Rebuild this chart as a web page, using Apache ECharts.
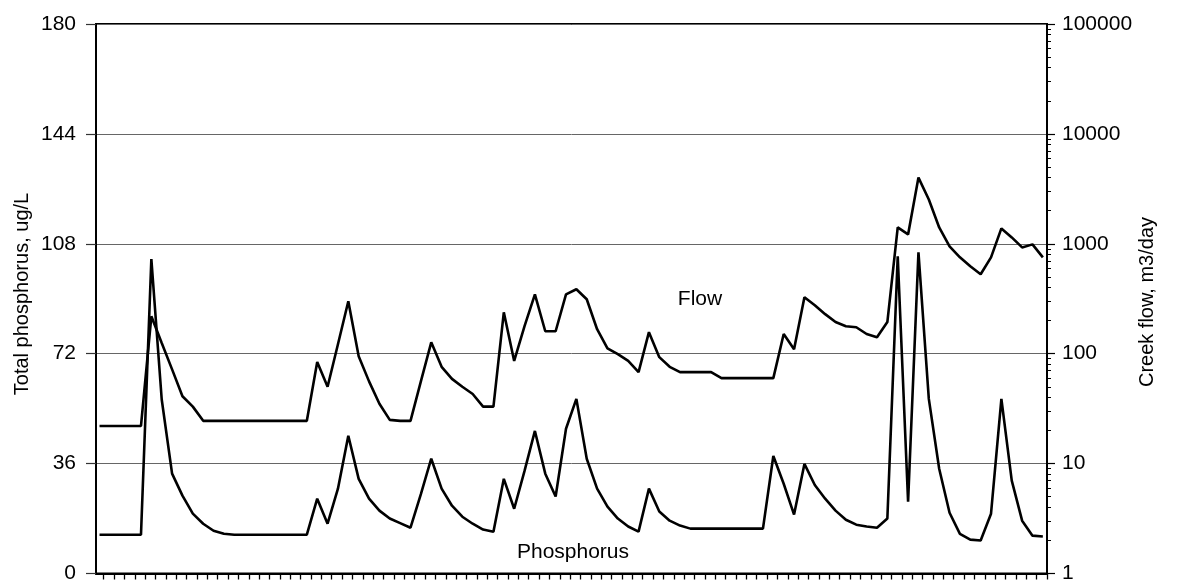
<!DOCTYPE html>
<html><head><meta charset="utf-8">
<script src="https://cdn.jsdelivr.net/npm/echarts@6/dist/echarts.min.js"></script>
<style>html,body{margin:0;padding:0;background:#fff}#c{width:1179px;height:584px}</style>
</head><body><div id="c"></div>
<script>
// Total phosphorus, ug/L (left axis), one value per sample
const phosphorus = [
  12.7,12.7,12.7,12.7,12.7,103,57,32.7,25.5,19.6,
  16.3,14,13,12.7,12.7,12.7,12.7,12.7,12.7,12.7,
  12.7,24.5,16.3,27.8,45.1,31,24.5,20.6,18,16.5,
  15,26,37.6,27.8,22.2,18.6,16.3,14.4,13.7,31,
  21.2,33.6,46.7,32.7,25.2,47.4,57.2,37.6,27.8,21.9,
  18,15.4,13.7,27.8,20.3,17.3,15.7,14.7,14.7,14.7,
  14.7,14.7,14.7,14.7,14.7,38.5,29.4,19.3,35.9,29,
  24.5,20.6,17.6,16,15.4,15,18,103.9,23.5,105.2,
  57.2,34.3,19.9,13,11.1,10.8,19.6,57.2,30.4,17.3,
  12.4,12.1
];
// Creek flow, m3/day (right, log axis)
const flow = [
  22,22,22,22,22,219,125,72,41,33,
  24.5,24.5,24.5,24.5,24.5,24.5,24.5,24.5,24.5,24.5,
  24.5,84,50,122,300,95,56,35,25,24.5,
  24.5,56,127,76,59,50,43,33,33,238,
  86,178,347,160,160,347,386,313,167,112,
  99,86,68,157,93,76,68,68,68,68,
  60,60,60,60,60,60,151,110,326,276,
  229,194,178,174,151,141,194,1409,1217,4005,
  2529,1409,947,753,624,528,753,1380,1143,927,
  988,753
];
const leftTicks = [0, 36, 72, 108, 144, 180];
const rightTicks = [1, 10, 100, 1000, 10000, 100000];
const leftTitle = 'Total phosphorus, ug/L';
const rightTitle = 'Creek flow, m3/day';
const flowLabel = 'Flow';
const phosLabel = 'Phosphorus';

const FONT = '"Liberation Sans", Arial, sans-serif';
const xTicks = phosphorus.map((_, i) => i + 0.4);
const minorLog = [];
for (let d = 0; d < 5; d++) for (let m = 2; m <= 9; m++) minorLog.push(d + Math.log10(m));

const chart = echarts.init(document.getElementById('c'), null, {renderer: 'canvas'});
chart.setOption({
  animation: false,
  backgroundColor: '#fff',
  grid: {left: 96, right: 132, top: 24, bottom: 9, show: true, borderColor: '#000', borderWidth: 2, containLabel: false},
  xAxis: {
    type: 'value', min: -0.34, max: 91.4,
    axisLine: {show: true, onZero: false, lineStyle: {color: '#000', width: 2}},
    axisTick: {show: true, customValues: xTicks, length: 6, inside: false, lineStyle: {color: '#000', width: 1.3}},
    axisLabel: {show: false},
    splitLine: {show: false}
  },
  yAxis: [
    {
      type: 'value', position: 'left', min: leftTicks[0], max: leftTicks[leftTicks.length - 1], interval: 36,
      axisLine: {show: true, onZero: false, lineStyle: {color: '#000', width: 2}},
      axisTick: {show: true, length: 10, lineStyle: {color: '#333', width: 1.2}},
      axisLabel: {margin: 20, color: '#000', fontSize: 21, fontFamily: FONT},
      splitLine: {show: true, lineStyle: {color: '#666', width: 1}}
    },
    {
      type: 'log', logBase: 10, position: 'right', min: rightTicks[0], max: rightTicks[rightTicks.length - 1], splitNumber: 5,
      axisLine: {show: true, onZero: false, lineStyle: {color: '#000', width: 2}},
      axisTick: {show: true, length: 8, lineStyle: {color: '#000', width: 1.2}},
      axisLabel: {margin: 15, color: '#000', fontSize: 21, fontFamily: FONT, formatter: v => String(Math.round(v))},
      splitLine: {show: false}
    },
    {
      type: 'value', position: 'right', min: 0, max: 5,
      axisLine: {show: false, onZero: false},
      axisTick: {show: true, customValues: minorLog, length: 4, lineStyle: {color: '#000', width: 1}},
      axisLabel: {show: false},
      splitLine: {show: false}
    }
  ],
  series: [
    {
      name: phosLabel, type: 'line', yAxisIndex: 0, symbol: 'none', silent: true,
      lineStyle: {color: '#000', width: 2.6},
      data: phosphorus.map((v, i) => [i, v])
    },
    {
      name: flowLabel, type: 'line', yAxisIndex: 1, symbol: 'none', silent: true,
      lineStyle: {color: '#000', width: 2.6},
      data: flow.map((v, i) => [i, v])
    }
  ],
  graphic: [
    {type: 'text', x: 22, y: 294, rotation: Math.PI / 2,
     style: {text: leftTitle, align: 'center', verticalAlign: 'middle', fill: '#000', font: '20px ' + FONT}},
    {type: 'text', x: 1147, y: 302, rotation: Math.PI / 2,
     style: {text: rightTitle, align: 'center', verticalAlign: 'middle', fill: '#000', font: '20px ' + FONT}},
    {type: 'text', x: 700, y: 299,
     style: {text: flowLabel, align: 'center', verticalAlign: 'middle', fill: '#000', font: '21px ' + FONT}},
    {type: 'text', x: 573, y: 552,
     style: {text: phosLabel, align: 'center', verticalAlign: 'middle', fill: '#000', font: '21px ' + FONT}}
  ]
});
</script>
</body></html>
